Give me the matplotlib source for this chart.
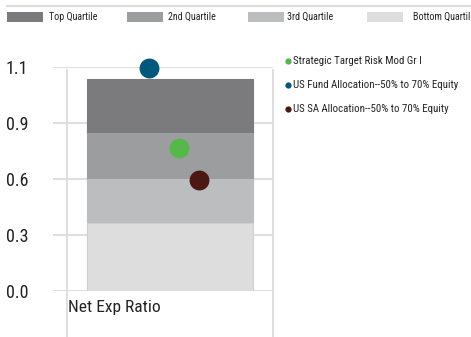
import matplotlib
matplotlib.use("Agg")
import matplotlib.pyplot as plt
from matplotlib import font_manager
from matplotlib.patches import Rectangle
from matplotlib.lines import Line2D

# ---- data -------------------------------------------------------------
category = "Net Exp Ratio"
quartile_names = ["Top Quartile", "2nd Quartile", "3rd Quartile", "Bottom Quartile"]
# quartile breakpoints (bottom -> top) of the expense-ratio distribution
quartile_edges = [0.0, 0.346, 0.575, 0.811, 1.087]
quartile_colors = ["#7b7b7d", "#9c9d9e", "#bcbdbe", "#dddddd"]  # top -> bottom

series_names = ["Strategic Target Risk Mod Gr I",
                "US Fund Allocation--50% to 70% Equity",
                "US SA Allocation--50% to 70% Equity"]
series_values = [0.731, 1.142, 0.568]
series_xpos = [0.544, 0.397, 0.640]   # horizontal placement inside the category band
series_colors = ["#56b84a", "#00587a", "#4b1813"]

ytick_values = [0.0, 0.2875, 0.575, 0.8625, 1.15]
ytick_labels = ["0.0", "0.3", "0.6", "0.9", "1.1"]

# ---- fonts ------------------------------------------------------------
def pick_family(cands):
    for c in cands:
        try:
            font_manager.findfont(c, fallback_to_default=False)
            return c
        except Exception:
            pass
    return "DejaVu Sans"

narrow = pick_family(["Liberation Sans Narrow", "Roboto Condensed", "Roboto", "Liberation Sans"])
plt.rcParams["font.family"] = [narrow, "DejaVu Sans"]

W, H = 471, 337
fig = plt.figure(figsize=(W / 100, H / 100), dpi=100)

def fx(px):
    return px / W

def fy(py):
    return 1 - py / H

grid_c = "#dcdcdc"
text_c = "#222222"

# axes spans pixel box x 52.7..273, y 66.7..290.7
ax_left_px = 52.7
ax = fig.add_axes([fx(ax_left_px), fy(290.7), fx(273) - fx(ax_left_px), fy(66.7) - fy(290.7)])
band_left_px, band_right_px = 66.7, 273.0
unit = band_right_px - band_left_px
ax.set_xlim((ax_left_px - band_left_px) / unit, 1.0)
ax.set_ylim(0, 1.15)
for s in ax.spines.values():
    s.set_visible(False)
ax.set_xticks([])
ax.set_yticks(ytick_values, ytick_labels)
ax.tick_params(axis="y", length=0, pad=(ax_left_px - 6) * 0.72, labelsize=13, labelcolor=text_c)
for lbl in ax.get_yticklabels():
    lbl.set_horizontalalignment("left")
ax.yaxis.grid(True, color=grid_c, linewidth=1.3)
ax.set_axisbelow(True)

# vertical category separators, running below the zero line
for xv in (0.0, 1.0):
    ax.plot([xv, xv], [-0.207, 0.985], transform=ax.get_xaxis_transform(),
            color=grid_c, linewidth=1.3, clip_on=False, zorder=0.5)

# stacked quartile bar
bar_center, bar_width = 0.499, 0.805
tops = quartile_edges[1:][::-1]
bottoms = quartile_edges[:-1][::-1]
for b, t, c in zip(bottoms, tops, quartile_colors):
    ax.bar(bar_center, t - b, bottom=b, width=bar_width, color=c,
           edgecolor="#cfcfcf" if c == "#dddddd" else c, linewidth=0.8, zorder=2)

# fund markers
for x, v, c in zip(series_xpos, series_values, series_colors):
    ax.scatter([x], [v], s=205, color=c, zorder=4, clip_on=False, linewidths=0)

ax.text(0.005, -0.04, category, transform=ax.get_xaxis_transform(),
        ha="left", va="top", fontsize=12.5, color=text_c)

# top quartile legend
fig.add_artist(Line2D([fx(7), 1.0], [fy(6), fy(6)], color=grid_c, linewidth=1.6))
swatch_x = [7, 127, 248, 367]
text_x = [49, 168, 287, 413]
for sx, tx, name, c in zip(swatch_x, text_x, quartile_names, quartile_colors):
    fig.add_artist(Rectangle((fx(sx), fy(22)), fx(36), fy(12) - fy(22),
                             transform=fig.transFigure, color=c, linewidth=0))
    fig.text(fx(tx), fy(17), name, ha="left", va="center", fontsize=7.2, color=text_c)

# fund legend
legend_y = [61, 85, 109]
for y, name, c in zip(legend_y, series_names, series_colors):
    fig.add_artist(Line2D([fx(288)], [fy(y)], marker="o", markersize=4.5,
                          color=c, markeredgewidth=0, linestyle="none"))
    fig.text(fx(293), fy(y), name, ha="left", va="center", fontsize=7.8, color=text_c)

fig.savefig("out.png", dpi=100)
